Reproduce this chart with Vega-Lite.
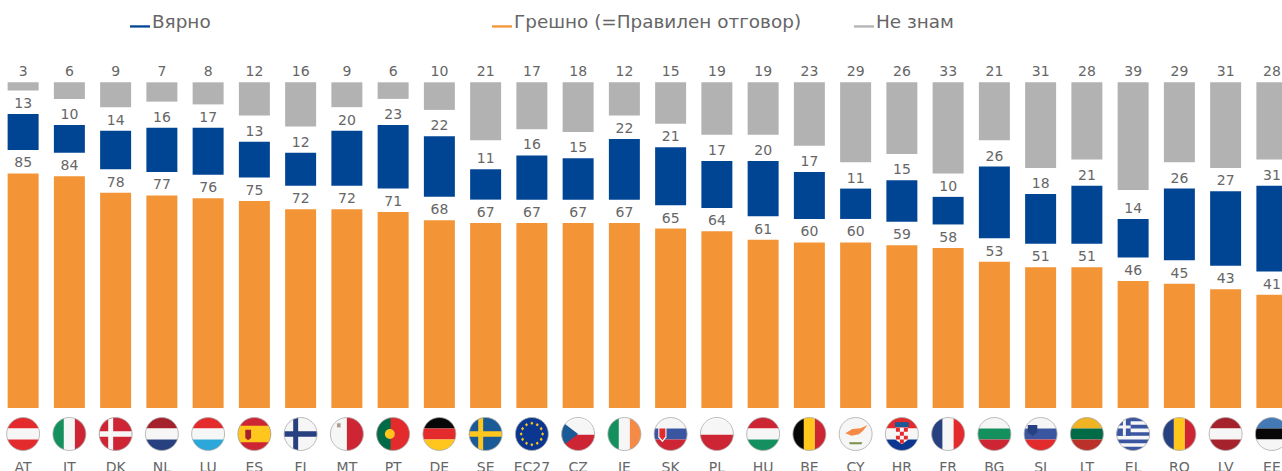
{
"$schema":"https://vega.github.io/schema/vega-lite/v6.json",
"width":1282,"height":408,
"autosize":{"type":"none"},
"padding":{"left":0,"top":0,"right":0,"bottom":63},
"background":"white",
"config":{"view":{"stroke":null},"font":"DejaVu Sans"},
"datasets":{
"bars":[
{"code":"AT","wrong":85,"right":13,"dk":3},{"code":"IT","wrong":84,"right":10,"dk":6},{"code":"DK","wrong":78,"right":14,"dk":9},{"code":"NL","wrong":77,"right":16,"dk":7},{"code":"LU","wrong":76,"right":17,"dk":8},{"code":"ES","wrong":75,"right":13,"dk":12},{"code":"FI","wrong":72,"right":12,"dk":16},{"code":"MT","wrong":72,"right":20,"dk":9},{"code":"PT","wrong":71,"right":23,"dk":6},{"code":"DE","wrong":68,"right":22,"dk":10},{"code":"SE","wrong":67,"right":11,"dk":21},{"code":"EC27","wrong":67,"right":16,"dk":17},{"code":"CZ","wrong":67,"right":15,"dk":18},{"code":"IE","wrong":67,"right":22,"dk":12},{"code":"SK","wrong":65,"right":21,"dk":15},{"code":"PL","wrong":64,"right":17,"dk":19},{"code":"HU","wrong":61,"right":20,"dk":19},{"code":"BE","wrong":60,"right":17,"dk":23},{"code":"CY","wrong":60,"right":11,"dk":29},{"code":"HR","wrong":59,"right":15,"dk":26},{"code":"FR","wrong":58,"right":10,"dk":33},{"code":"BG","wrong":53,"right":26,"dk":21},{"code":"SI","wrong":51,"right":18,"dk":31},{"code":"LT","wrong":51,"right":21,"dk":28},{"code":"EL","wrong":46,"right":14,"dk":39},{"code":"RO","wrong":45,"right":26,"dk":29},{"code":"LV","wrong":43,"right":27,"dk":31},{"code":"EE","wrong":41,"right":31,"dk":28}
],
"flags":[
{"code":"AT","part":"h3top","colour":"red"},{"code":"AT","part":"h3mid","colour":"white"},{"code":"AT","part":"h3bot","colour":"red"},
{"code":"IT","part":"v3left","colour":"green"},{"code":"IT","part":"v3mid","colour":"white"},{"code":"IT","part":"v3right","colour":"crimson"},
{"code":"DK","part":"full","colour":"crimson"},{"code":"DK","part":"nordic","colour":"white"},
{"code":"NL","part":"h3top","colour":"maroon"},{"code":"NL","part":"h3mid","colour":"white"},{"code":"NL","part":"h3bot","colour":"navy"},
{"code":"LU","part":"h3top","colour":"red"},{"code":"LU","part":"h3mid","colour":"white"},{"code":"LU","part":"h3bot","colour":"lightblue"},
{"code":"ES","part":"full","colour":"crimson"},{"code":"ES","part":"hwide","colour":"yellow"},{"code":"ES","part":"esemblem","colour":"maroon"},
{"code":"FI","part":"full","colour":"white"},{"code":"FI","part":"nordic","colour":"navy"},
{"code":"MT","part":"full","colour":"white"},{"code":"MT","part":"v2right","colour":"crimson"},{"code":"MT","part":"mtemblem","colour":"grey"},
{"code":"PT","part":"full","colour":"red"},{"code":"PT","part":"ptleft","colour":"deepgreen"},{"code":"PT","part":"ptemblem","colour":"yellow"},
{"code":"DE","part":"h3top","colour":"black"},{"code":"DE","part":"h3mid","colour":"red"},{"code":"DE","part":"h3bot","colour":"yellow"},
{"code":"SE","part":"full","colour":"seblue"},{"code":"SE","part":"nordic","colour":"yellow"},
{"code":"EC27","part":"full","colour":"eublue"},{"code":"EC27","part":"stars","colour":"yellow"},
{"code":"CZ","part":"h2top","colour":"white"},{"code":"CZ","part":"h2bot","colour":"crimson"},{"code":"CZ","part":"tri","colour":"seblue"},
{"code":"IE","part":"v3left","colour":"green"},{"code":"IE","part":"v3mid","colour":"white"},{"code":"IE","part":"v3right","colour":"orange"},
{"code":"SK","part":"h3top","colour":"white"},{"code":"SK","part":"h3mid","colour":"blue"},{"code":"SK","part":"h3bot","colour":"crimson"},{"code":"SK","part":"skshield","colour":"white"},{"code":"SK","part":"skinner","colour":"red"},
{"code":"PL","part":"h2top","colour":"white"},{"code":"PL","part":"h2bot","colour":"crimson"},
{"code":"HU","part":"h3top","colour":"crimson"},{"code":"HU","part":"h3mid","colour":"white"},{"code":"HU","part":"h3bot","colour":"green"},
{"code":"BE","part":"v3left","colour":"black"},{"code":"BE","part":"v3mid","colour":"yellow"},{"code":"BE","part":"v3right","colour":"crimson"},
{"code":"CY","part":"full","colour":"white"},{"code":"CY","part":"cyisland","colour":"orange"},{"code":"CY","part":"cysprig","colour":"olive"},
{"code":"HR","part":"h3top","colour":"red"},{"code":"HR","part":"h3mid","colour":"white"},{"code":"HR","part":"h3bot","colour":"eublue"},{"code":"HR","part":"hrshield","colour":"white"},{"code":"HR","part":"hrchecker","colour":"red"},{"code":"HR","part":"hrcrown","colour":"seblue"},
{"code":"FR","part":"v3left","colour":"navy"},{"code":"FR","part":"v3mid","colour":"white"},{"code":"FR","part":"v3right","colour":"red"},
{"code":"BG","part":"h3top","colour":"white"},{"code":"BG","part":"h3mid","colour":"green"},{"code":"BG","part":"h3bot","colour":"crimson"},
{"code":"SI","part":"h3top","colour":"white"},{"code":"SI","part":"h3mid","colour":"blue"},{"code":"SI","part":"h3bot","colour":"red"},{"code":"SI","part":"sishield","colour":"navy"},
{"code":"LT","part":"h3top","colour":"gold"},{"code":"LT","part":"h3mid","colour":"deepgreen"},{"code":"LT","part":"h3bot","colour":"brick"},
{"code":"EL","part":"full","colour":"white"},{"code":"EL","part":"elstripes","colour":"blue"},{"code":"EL","part":"elcanton","colour":"blue"},{"code":"EL","part":"elcross","colour":"white"},
{"code":"RO","part":"v3left","colour":"navy"},{"code":"RO","part":"v3mid","colour":"yellow"},{"code":"RO","part":"v3right","colour":"crimson"},
{"code":"LV","part":"h3top","colour":"maroon"},{"code":"LV","part":"h3mid","colour":"white"},{"code":"LV","part":"h3bot","colour":"maroon"},
{"code":"EE","part":"h3top","colour":"steel"},{"code":"EE","part":"h3mid","colour":"black"},{"code":"EE","part":"h3bot","colour":"white"}
]
},
"encoding":{
"x":{"field":"code","type":"nominal","scale":{"type":"band","domain":["AT","IT","DK","NL","LU","ES","FI","MT","PT","DE","SE","EC27","CZ","IE","SK","PL","HU","BE","CY","HR","FR","BG","SI","LT","EL","RO","LV","EE"],"range":[0,1295],"paddingInner":0.33,"paddingOuter":0.165},
"axis":{"title":null,"domain":false,"ticks":false,"labelAngle":0,"labelPadding":52,"labelFontSize":14,"labelColor":"#666666","labelFont":"DejaVu Sans","labelOverlap":false}}
},
"layer":[
{"data":{"name":"bars"},
"transform":[
{"fold":["wrong","right","dk"],"as":["key","value"]},
{"calculate":"datum.key=='wrong'?'Грешно (=Правилен отговор)':datum.key=='right'?'Вярно':'Не знам'","as":"answer"},
{"calculate":"datum.key=='wrong'?0:datum.key=='right'?datum.wrong+8.5:118-datum.dk","as":"start"},
{"calculate":"datum.key=='wrong'?datum.wrong:datum.key=='right'?datum.wrong+8.5+datum.right:118","as":"end"}
],
"layer":[
{"mark":{"type":"bar","strokeWidth":0},
"encoding":{
"y":{"field":"start","type":"quantitative","scale":{"domain":[0,147.83],"nice":false,"zero":false},"axis":null},
"y2":{"field":"end"},
"color":{"field":"answer","type":"nominal","scale":{"domain":["Вярно","Грешно (=Правилен отговор)","Не знам"],"range":["#004494","#F39536","#B2B2B2"]},
"legend":{"title":null,"orient":"none","legendX":130,"legendY":12,"direction":"horizontal","columns":3,"gridAlign":"all","columnPadding":52,"symbolType":"M-1,0.3L1,0.3L1,0.53L-1,0.53Z","symbolSize":400,"symbolStrokeWidth":0,"labelFontSize":18.4,"labelFont":"DejaVu Sans","labelColor":"#666666","labelLimit":400,"labelOffset":2}}
}},
{"mark":{"type":"text","baseline":"bottom","dy":-3,"fontSize":14,"font":"DejaVu Sans","color":"#666666"},
"encoding":{
"y":{"field":"end","type":"quantitative","scale":{"domain":[0,147.83],"nice":false,"zero":false},"axis":null},
"text":{"field":"value","type":"quantitative"}
}}
]},
{"data":{"name":"flags"},
"mark":{"type":"point","filled":true,"size":1089,"opacity":1,"strokeWidth":0},
"encoding":{
"y":{"datum":-9.42,"type":"quantitative","scale":{"domain":[0,147.83],"nice":false,"zero":false},"axis":null},
"shape":{"field":"part","type":"nominal","legend":null,"scale":{
"domain":["full","h3top","h3mid","h3bot","v3left","v3mid","v3right","h2top","h2bot","v2right","hwide","nordic","tri","ptleft","ptemblem","esemblem","mtemblem","stars","skshield","skinner","cyisland","cysprig","hrshield","hrchecker","hrcrown","sishield","elstripes","elcanton","elcross"],
"range":[
"M-1,0A1,1 0 1,1 1,0A1,1 0 1,1 -1,0Z",
"M-0.943,-0.333A1,1 0 0,1 0.943,-0.333Z",
"M-0.943,-0.333L0.943,-0.333A1,1 0 0,1 0.943,0.333L-0.943,0.333A1,1 0 0,1 -0.943,-0.333Z",
"M0.943,0.333A1,1 0 0,1 -0.943,0.333Z",
"M-0.333,0.943A1,1 0 0,1 -0.333,-0.943Z",
"M-0.333,-0.943A1,1 0 0,1 0.333,-0.943L0.333,0.943A1,1 0 0,1 -0.333,0.943Z",
"M0.333,-0.943A1,1 0 0,1 0.333,0.943Z",
"M-0.999,0.05A1,1 0 0,1 0.999,0.05Z",
"M0.999,0.05A1,1 0 0,1 -0.999,0.05Z",
"M0,-1A1,1 0 0,1 0,1Z",
"M-0.866,-0.5L0.866,-0.5A1,1 0 0,1 0.866,0.5L-0.866,0.5A1,1 0 0,1 -0.866,-0.5Z",
"M-0.45,-0.893L-0.15,-0.989L-0.15,-0.16L0.987,-0.16L0.987,0.16L-0.15,0.16L-0.15,0.989L-0.45,0.893L-0.45,0.16L-0.987,0.16L-0.987,-0.16L-0.45,-0.16Z",
"M-0.8,-0.6L0,0L-0.8,0.6A1,1 0 0,1 -0.8,-0.6Z",
"M-0.15,-0.989A1,1 0 0,0 -0.15,0.989Z",
"M-0.2,-0.3A0.3,0.3 0 1,1 -0.2,0.3A0.3,0.3 0 1,1 -0.2,-0.3Z",
"M-0.55,-0.25L-0.2,-0.25L-0.2,0.25L-0.38,0.38L-0.55,0.25Z",
"M-0.6,-0.65L-0.38,-0.65L-0.38,-0.4L-0.6,-0.4Z",
"M0,-0.76L0.09,-0.65L0,-0.54L-0.09,-0.65ZM0.325,-0.673L0.415,-0.563L0.325,-0.453L0.235,-0.563ZM0.563,-0.435L0.653,-0.325L0.563,-0.215L0.473,-0.325ZM0.65,-0.11L0.74,0L0.65,0.11L0.56,0ZM0.563,0.215L0.653,0.325L0.563,0.435L0.473,0.325ZM0.325,0.453L0.415,0.563L0.325,0.673L0.235,0.563ZM0,0.54L0.09,0.65L0,0.76L-0.09,0.65ZM-0.325,0.453L-0.235,0.563L-0.325,0.673L-0.415,0.563ZM-0.563,0.215L-0.473,0.325L-0.563,0.435L-0.653,0.325ZM-0.65,-0.11L-0.56,0L-0.65,0.11L-0.74,0ZM-0.563,-0.435L-0.473,-0.325L-0.563,-0.215L-0.653,-0.325ZM-0.325,-0.673L-0.235,-0.563L-0.325,-0.453L-0.415,-0.563Z",
"M-0.75,-0.4L-0.25,-0.4L-0.25,0.2L-0.5,0.5L-0.75,0.2Z",
"M-0.68,-0.33L-0.32,-0.33L-0.32,0.15L-0.5,0.38L-0.68,0.15Z",
"M-0.62,-0.05L-0.2,-0.3L0.3,-0.35L0.72,-0.55L0.45,-0.2L0.2,0.02L-0.25,0.1Z",
"M-0.4,0.5L0.4,0.5L0.35,0.62L-0.35,0.62Z",
"M-0.38,-0.4L0.38,-0.4L0.38,0.35L0,0.62L-0.38,0.35Z",
"M-0.36,-0.38L-0.12,-0.38L-0.12,-0.14L-0.36,-0.14ZM0.12,-0.38L0.36,-0.38L0.36,-0.14L0.12,-0.14ZM-0.12,-0.14L0.12,-0.14L0.12,0.1L-0.12,0.1ZM-0.36,0.1L-0.12,0.1L-0.12,0.34L-0.36,0.34ZM0.12,0.1L0.36,0.1L0.36,0.34L0.12,0.34ZM-0.12,0.34L0.12,0.34L0.12,0.58L-0.12,0.58Z",
"M-0.42,-0.72L0.42,-0.72L0.42,-0.42L-0.42,-0.42Z",
"M-0.78,-0.55L-0.2,-0.55L-0.2,-0.1L-0.49,0.12L-0.78,-0.1Z",
"M-0.628,-0.778A1,1 0 0,1 0.628,-0.778ZM-0.83,-0.556L0.83,-0.556L0.943,-0.333L-0.943,-0.333ZM-0.994,-0.111L0.994,-0.111L0.994,0.111L-0.994,0.111ZM-0.943,0.333L0.943,0.333L0.83,0.556L-0.83,0.556ZM-0.628,0.778L0.628,0.778A1,1 0 0,1 -0.628,0.778Z",
"M-0.15,-0.989L-0.15,0.111L-0.994,0.111A1,1 0 0,1 -0.15,-0.989Z",
"M-0.62,-0.93L-0.44,-0.93L-0.44,-0.52L-0.15,-0.52L-0.15,-0.34L-0.44,-0.34L-0.44,0.111L-0.62,0.111L-0.62,-0.34L-0.94,-0.34L-0.94,-0.52L-0.62,-0.52Z"
]}},
"fill":{"field":"colour","type":"nominal","legend":null,"scale":{
"domain":["red","crimson","maroon","brick","white","navy","blue","seblue","eublue","steel","lightblue","green","deepgreen","olive","yellow","gold","orange","black","grey"],
"range":["#E32B2D","#CE2534","#A5222C","#BB3028","#F6F6F6","#27407F","#3A56A0","#1A5A96","#0B3791","#4479B5","#2BA7DA","#14905F","#006B46","#7A8F4A","#FFC61E","#F0B324","#F58A47","#070707","#B09A8E"]
}}
}},
{"data":{"name":"bars"},
"mark":{"type":"point","filled":false,"size":1089,"opacity":1,"stroke":"#ABABAB","strokeWidth":0.8,"shape":"M-1,0A1,1 0 1,1 1,0A1,1 0 1,1 -1,0Z"},
"encoding":{"y":{"datum":-9.42,"type":"quantitative","scale":{"domain":[0,147.83],"nice":false,"zero":false},"axis":null}}
}
]
}
